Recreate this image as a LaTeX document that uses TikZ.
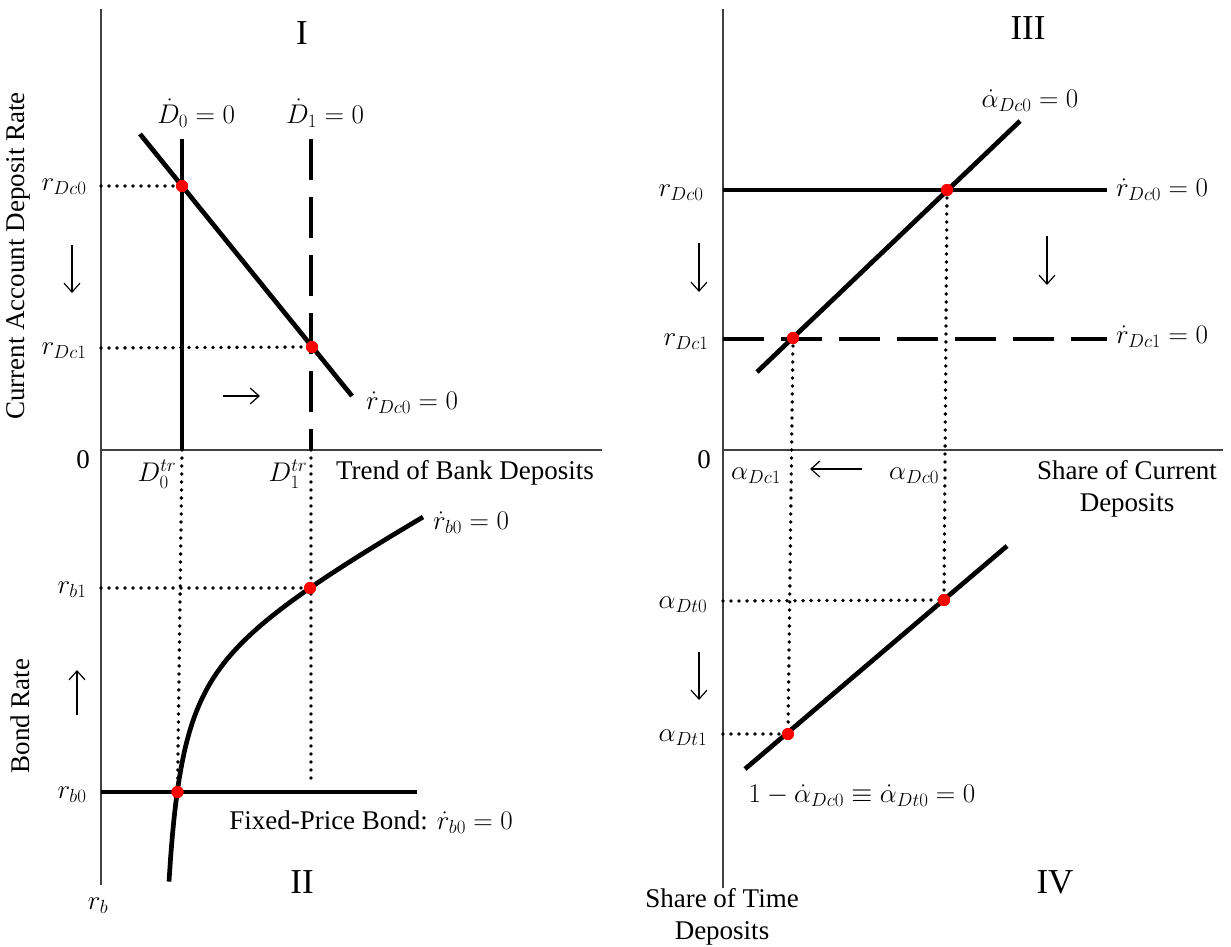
\RequirePackage{fix-cm}
\documentclass[tikz,border=0pt]{standalone}
\usepackage{fontspec}
\setmainfont{Liberation Serif}
\usetikzlibrary{arrows.meta}
\begin{document}
\begin{tikzpicture}[x=1pt,y=-1pt,
  txt/.style={font=\fontsize{27}{32}\selectfont, inner sep=0pt},
  roman/.style={font=\fontsize{35}{40}\selectfont, inner sep=0pt},
  axis/.style={line width=1.2pt, draw=black!75},
  thick curve/.style={line width=4.7pt},
  dashcurve/.style={line width=4.7pt, dash pattern=on 41pt off 17pt},
  dotline/.style={line width=3.8pt, line cap=round, dash pattern=on 0pt off 8pt},
  reddot/.style={circle, fill=red, inner sep=0pt, minimum size=12pt},
  movearrow/.style={line width=1.2pt, -{Straight Barb[length=9pt,width=16pt,line width=1.2pt]}}
]
\useasboundingbox (0,0) rectangle (1231,947);

% ---------------- left panels ----------------
\coordinate (LyT) at (101,9);
\coordinate (LyB) at (101,885);
\coordinate (LO) at (101,450);
\coordinate (LxR) at (602,450);
\draw[axis] (LyT) -- (LyB);
\draw[axis] (LO) -- (LxR);

% D0 and D1 loci
\coordinate (D0t) at (182,139);
\coordinate (D0b) at (182,450);
\coordinate (D1t) at (311,139);
\coordinate (D1b) at (311,450);
\draw[thick curve] (D0t) -- (D0b);
\draw[dashcurve] (D1t) -- (D1b);

% r_Dc0 locus (downward sloping)
\coordinate (RsA) at (140,134);
\coordinate (RsB) at (352,396);
\draw[thick curve] (RsA) -- (RsB);

% bond curve (r_b0 dot = 0)
\draw[thick curve] plot[domain=169:423, samples=150, variable=\t]
  (\t, {733.1 + 3602.5/(\t-154) - 0.5425*\t});

% fixed price bond
\coordinate (FbL) at (101,792);
\coordinate (FbR) at (417,792);
\draw[thick curve] (FbL) -- (FbR);

% intersection points
\node[reddot] (P1) at (182,186) {};
\node[reddot] (P2) at (312,347) {};
\node[reddot] (P3) at (310,588) {};
\node[reddot] (P4) at (177.5,792) {};

% dotted guides
\coordinate (Ly0) at (101,186);
\coordinate (Ly1) at (101,348);
\coordinate (Ly2) at (101,588);
\coordinate (D1bot) at (311,785);
\draw[dotline] (Ly0) -- (P1.center);
\draw[dotline] (Ly1) -- (P2.center);
\draw[dotline] (Ly2) -- (P3.center);
\draw[dotline] (D0b) -- (P4.center);
\draw[dotline] (D1b) -- (D1bot);

% redraw dots on top
\foreach \p in {P1,P2,P3,P4} \fill[red] (\p.center) circle (6pt);

% arrows
\coordinate (aL1s) at (72,245); \coordinate (aL1e) at (72,293);
\coordinate (aL2s) at (223,396); \coordinate (aL2e) at (260,396);
\coordinate (aL3s) at (77,715); \coordinate (aL3e) at (77,670);
\draw[movearrow] (aL1s) -- (aL1e);
\draw[movearrow] (aL2s) -- (aL2e);
\draw[movearrow] (aL3s) -- (aL3e);

% labels left
\node[roman] (tI) at (302,33) {I};
\node[txt] (tD0) at (196,113) {$\dot D_0 = 0$};
\node[txt] (tD1) at (325,113) {$\dot D_1 = 0$};
\node[txt] (trDc0) at (64,187) {$r_{Dc0}$};
\node[txt] (trDc1) at (64,351) {$r_{Dc1}$};
\node[txt, anchor=west] (trs) at (366,403) {$\dot r_{Dc0} = 0$};
\node[txt] (tzero) at (83,460) {0};
\node[txt] (tD0tr) at (157,474) {$D_0^{tr}$};
\node[txt] (tD1tr) at (288,474) {$D_1^{tr}$};
\node[txt] (tTrend) at (465,473) {Trend of Bank Deposits};
\node[txt, anchor=west] (trb) at (433,523) {$\dot r_{b0} = 0$};
\node[txt] (trb1) at (72,590) {$r_{b1}$};
\node[txt] (trb0) at (72,795) {$r_{b0}$};
\node[txt] (tFixed) at (371,822) {Fixed-Price Bond: $\dot r_{b0} = 0$};
\node[roman] (tII) at (302,882) {II};
\node[txt] (trbax) at (98,906) {$r_b$};
\node[txt, rotate=90] (tBond) at (20,716) {Bond Rate};
\node[txt, rotate=90] (tCur) at (18,256) {Current Account Deposit Rate};

% ---------------- right panels ----------------
\coordinate (RyT) at (723,9);
\coordinate (RyB) at (723,888);
\coordinate (RO) at (723,450);
\coordinate (RxR) at (1223,450);
\draw[axis] (RyT) -- (RyB);
\draw[axis] (RO) -- (RxR);

\coordinate (H0L) at (723,190); \coordinate (H0R) at (1107,190);
\coordinate (H1L) at (723,339); \coordinate (H1R) at (1107,339);
\draw[thick curve] (H0L) -- (H0R);
\draw[dashcurve] (H1L) -- (H1R);

\coordinate (AlA) at (757,372); \coordinate (AlB) at (1020,121);
\draw[thick curve] (AlA) -- (AlB);

\coordinate (IVA) at (745,769); \coordinate (IVB) at (1007,546);
\draw[thick curve] (IVA) -- (IVB);

\node[reddot] (Q1) at (947,190) {};
\node[reddot] (Q2) at (793,338) {};
\node[reddot] (Q3) at (944,600) {};
\node[reddot] (Q4) at (788,734) {};

\coordinate (Ry3) at (723,601);
\coordinate (Ry4) at (723,734);
\draw[dotline] (Q1.center) -- (Q3.center);
\draw[dotline] (Q2.center) -- (Q4.center);
\draw[dotline] (Ry3) -- (Q3.center);
\draw[dotline] (Ry4) -- (Q4.center);
\foreach \p in {Q1,Q2,Q3,Q4} \fill[red] (\p.center) circle (6pt);

\coordinate (aR1s) at (699,243); \coordinate (aR1e) at (699,292);
\coordinate (aR2s) at (1047,236); \coordinate (aR2e) at (1047,285);
\coordinate (aR3s) at (862,469); \coordinate (aR3e) at (810,469);
\coordinate (aR4s) at (699,652); \coordinate (aR4e) at (699,700);
\draw[movearrow] (aR1s) -- (aR1e);
\draw[movearrow] (aR2s) -- (aR2e);
\draw[movearrow] (aR3s) -- (aR3e);
\draw[movearrow] (aR4s) -- (aR4e);

\node[roman] (tIII) at (1028,28) {III};
\node[txt] (tadc) at (1030,101) {$\dot\alpha_{Dc0} = 0$};
\node[txt] (tRrDc0) at (681,193) {$r_{Dc0}$};
\node[txt] (tRrDc1) at (686,342) {$r_{Dc1}$};
\node[txt, anchor=west] (tRs0) at (1116,190) {$\dot r_{Dc0} = 0$};
\node[txt, anchor=west] (tRs1) at (1116,337) {$\dot r_{Dc1} = 0$};
\node[txt] (tRzero) at (704,460) {0};
\node[txt] (taDc1) at (756,476) {$\alpha_{Dc1}$};
\node[txt] (taDc0) at (914,476) {$\alpha_{Dc0}$};
\node[txt, align=center] (tShareC) at (1127,489) {Share of Current\\Deposits};
\node[txt] (taDt0) at (683,605) {$\alpha_{Dt0}$};
\node[txt] (taDt1) at (683,738) {$\alpha_{Dt1}$};
\node[txt] (tIVeq) at (862,796) {$1-\dot\alpha_{Dc0}\equiv\dot\alpha_{Dt0} = 0$};
\node[roman] (tIV) at (1055,882) {IV};
\node[txt, align=center] (tShareT) at (722,917) {Share of Time\\Deposits};
\end{tikzpicture}
\end{document}
